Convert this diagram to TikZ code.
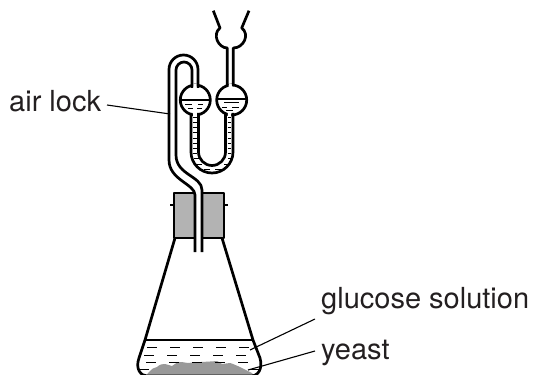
\documentclass[tikz,border=0pt]{standalone}
\usepackage{fontspec}
\setmainfont{TeX Gyre Heros}
\usetikzlibrary{positioning}
\definecolor{Ink}{HTML}{000000}
\definecolor{Letter}{HTML}{231F20}
\definecolor{Bung}{HTML}{B3B3B3}
\definecolor{Sludge}{HTML}{999999}
\tikzset{
  wall/.style={Ink,line width=2.7pt,line join=round},
  thinwall/.style={Ink,line width=1pt},
  leader/.style={Ink,line width=1.1pt},
  tag/.style={text=Letter,font=\fontsize{29}{29}\selectfont,inner sep=0pt,anchor=base west},
}
\begin{document}
\begin{tikzpicture}[x=1pt,y=-1pt]
    \useasboundingbox (0,0) rectangle (534,374);
    % flask
    \fill[Sludge] (146,376)--(148,373) .. controls (152,369) and (154,367) .. (157,367)
      .. controls (160,364) and (163,364) .. (165,364)
      .. controls (168,364) and (170,366) .. (172,366)
      .. controls (175,364) and (177,362) .. (180,362)
      .. controls (184,362) and (186,363) .. (188,363)
      .. controls (196,362) and (205,362) .. (217,361)
      .. controls (220,361) and (220,364) .. (222,364)
      .. controls (225,364) and (227,363) .. (230,363)
      .. controls (234,364) and (237,366) .. (240,367)--(252,373)--(254,376)--cycle;
    \draw[wall] (175,238)--(145,340)--(139,358) .. controls (135,369) and (141,376) .. (147,376)
      --(251,376) .. controls (258,376) and (263,369) .. (260,358)--(253,340)--(222,238);
    \draw[wall] (145,340)--(253,340);
    \foreach \y/\xa/\xb in {347/147/252,355/144/255,362/146/258}
      \draw[thinwall,dash pattern=on 10pt off 13pt] (\xa,\y)--(\xb,\y);
    \draw[thinwall] (140,369)--(149,369) (250,369)--(259,369);
    % bung
    \draw[wall,fill=Bung] (174,193) rectangle (224,238);
    \draw[wall] (170,205)--(174,205) (224,205)--(228,205);
    % air lock tube
    \fill[white] (195,252)--(195,195) .. controls (195,184) and (169,180) .. (169,160)
      --(176,155) .. controls (176,175) and (202,176) .. (202,190)--(202,252)--cycle;
    \draw[wall] (195,252)--(195,195) .. controls (195,184) and (169,180) .. (169,160)
      --(169,69.5) arc[start angle=180,end angle=360,radius=14.5] --(198,88);
    \draw[wall] (202,252)--(202,190) .. controls (202,176) and (176,175) .. (176,155)
      --(176,70) arc[start angle=180,end angle=360,radius=8] --(192,88);
    % bulbs
    \foreach \x/\lev in {195.3/100,231.7/99}
      {
        \draw[wall] (\x,100) circle (15);
        \draw[wall] (\x-14,\lev)--(\x+14,\lev);
      }
    \fill[white] (193.4,84) rectangle (196.6,88) (193,112) rectangle (197,118) (228.7,84) rectangle (231.9,88) (227.8,112) rectangle (231.2,118);
    \foreach \x/\y/\w in {185/105/7,198/105/5,224/103/15,222/108/5,232/108/7,188/109/5,197/109/5,226/111/7}
      \draw[thinwall] (\x,\y)--++(\w,0);
    % u tube
    \draw[wall] (191,113)--(191,152) arc[start angle=180,end angle=0,radius=21] --(233,113);
    \draw[wall] (198.5,113)--(198.5,152) arc[start angle=180,end angle=0,radius=13.5] --(225.5,113);
    \foreach \y in {118,123,...,153}
      {
        \draw[thinwall] (193,\y)--(196.5,\y);
        \draw[thinwall] (227.5,\y)--(231,\y);
      }
    \foreach \x/\y/\w in {194/158/5,197/164/5,204/169/6,215/169/6,224/164/5,228/158/4}
      \draw[thinwall] (\x,\y)--++(\w,0);
    % funnel
    \draw[wall] (213.3,10.7)--(220,28) .. controls (212,34) and (218,48) .. (227.3,48)--(227.3,85.5);
    \draw[wall] (249,10.7)--(241.7,28) .. controls (250,34) and (244,48) .. (233.3,48)--(233.3,85.5);
    % labels
    \node[tag] (airlock) at (9,112) {air lock};
    \node[tag] (glucose) at (321,308) {glucose solution};
    \node[tag] (yeast) at (321,359) {yeast};
    \coordinate (airlockstart) at (107,105);
    \coordinate (airlockend) at (170,114);
    \coordinate (glucosestart) at (315,319);
    \coordinate (glucoseend) at (250,350);
    \coordinate (yeaststart) at (315,351);
    \coordinate (yeastend) at (248,370);
    \draw[leader] (airlockstart) -- (airlockend);
    \draw[leader] (glucosestart) -- (glucoseend);
    \draw[leader] (yeaststart) -- (yeastend);
  \end{tikzpicture}
\end{document}
